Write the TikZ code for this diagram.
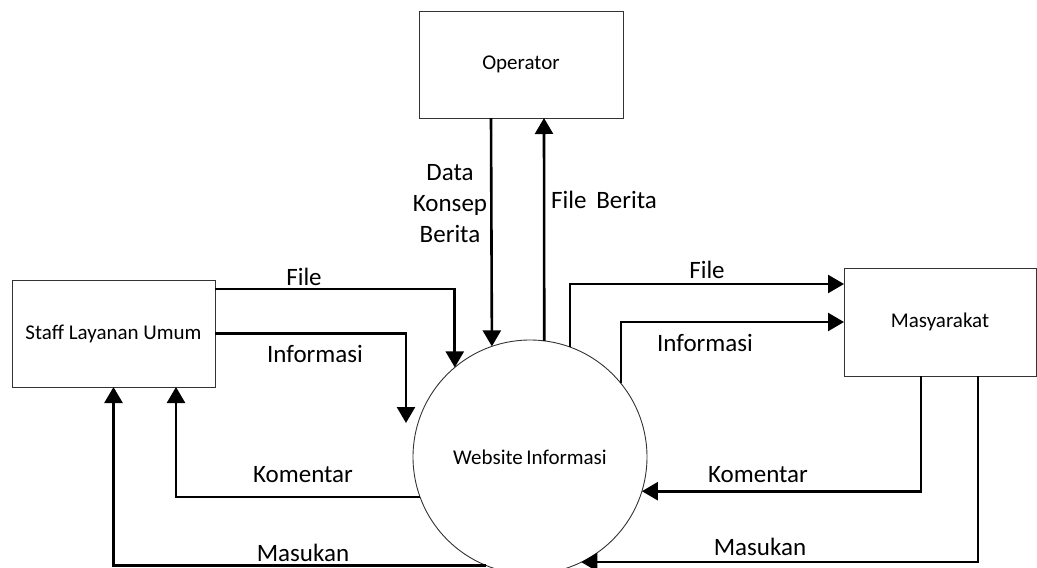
\documentclass[tikz,border=0pt]{standalone}
\usepackage{fontspec}
\setmainfont{Carlito}
\usetikzlibrary{arrows.meta,calc}
\tikzset{
  entity/.style={draw=black!80,line width=0.9pt,fill=white,inner sep=0pt,outer sep=0pt,font=\fontsize{21}{25}\selectfont},
  proc/.style={draw=black!80,line width=0.9pt,circle,fill=white,minimum size=234pt,inner sep=0pt,outer sep=0pt,font=\fontsize{21}{25}\selectfont},
  flow/.style={line width=2.6pt,-{Triangle[width=18pt,length=16pt]}},
  plain/.style={line width=2.6pt},
  lbl/.style={font=\fontsize{25}{31}\selectfont,inner sep=0pt,align=center}
}
\begin{document}
\begin{tikzpicture}[x=1pt,y=-1pt]
\useasboundingbox (0,0) rectangle (1037,568);
% entities
\node[entity,minimum width=204pt,minimum height=107pt] (op) at (521,64.5) {Operator};
\node[entity,minimum width=203pt,minimum height=107pt] (staff) at (113.5,333.5) {Staff Layanan Umum};
\node[entity,minimum width=192pt,minimum height=108pt] (mas) at (940,322) {Masyarakat};
\node[proc] (web) at (530,457) {Website\,Informasi};
% free end
\coordinate (infoL) at (406,423);
% operator flows
\draw[flow] ([xshift=-30pt]op.south) -- (web.109.5);
\draw[flow] (web.83.1) -- ([xshift=23pt]op.south);
% staff flows
\draw[flow] ([yshift=-9pt]staff.north east) -| (web.130.5);
\draw[flow] (staff.east) -| (infoL);
\draw[flow] (web.200) -| ([xshift=62.5pt]staff.south);
\draw[flow] (web.248.7) -| (staff.south);
% masyarakat flows
\draw[flow] (web.70.5) |- ([yshift=-16pt]mas.north west);
\draw[flow] (web.39.7) |- (mas.west);
\draw[flow] ([xshift=77pt]mas.south west) |- (web.343.6);
\draw[flow] ([xshift=134pt]mas.south west) |- (web.296.2);
% labels
\node[lbl] (lDKB) at (450,204) {Data\\Konsep\\Berita};
\node[lbl] (lFB) at (604,200) {File\, Berita};
\node[lbl] (lFL) at (304,277) {File};
\node[lbl] (lIL) at (315,354) {Informasi};
\node[lbl] (lKL) at (303,475) {Komentar};
\node[lbl] (lML) at (303,553) {Masukan};
\node[lbl] (lFR) at (707,270) {File};
\node[lbl] (lIR) at (705,343) {Informasi};
\node[lbl] (lKR) at (758,475) {Komentar};
\node[lbl] (lMR) at (760,547) {Masukan};
\end{tikzpicture}
\end{document}
